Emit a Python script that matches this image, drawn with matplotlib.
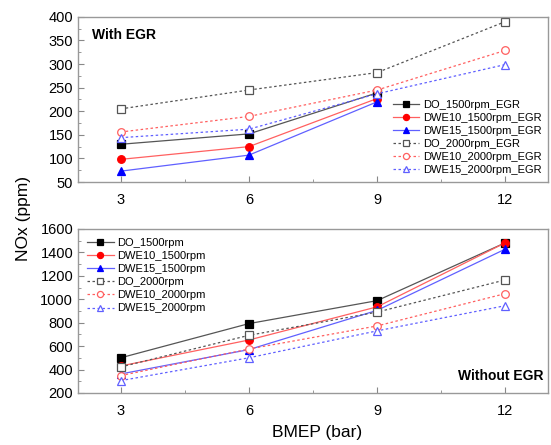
import matplotlib
matplotlib.use('Agg')
import matplotlib.pyplot as plt
from matplotlib.ticker import MultipleLocator

plt.rcParams['font.family'] = ['Liberation Sans', 'DejaVu Sans']

bmep = [3, 6, 9, 12]

# With EGR (1500rpm runs stop at 9 bar)
do_1500_egr = [130, 152, 239]
dwe10_1500_egr = [98, 125, 227]
dwe15_1500_egr = [73, 107, 220]
do_2000_egr = [205, 245, 282, 390]
dwe10_2000_egr = [156, 189, 245, 329]
dwe15_2000_egr = [144, 162, 237, 299]

# Without EGR
do_1500 = [500, 792, 988, 1482]
dwe10_1500 = [430, 652, 935, 1482]
dwe15_1500 = [362, 570, 905, 1428]
do_2000 = [422, 692, 890, 1165]
dwe10_2000 = [348, 575, 772, 1048]
dwe15_2000 = [305, 500, 730, 945]

black, red, blue = 'black', 'red', 'blue'
lblack, lred, lblue = '#555555', '#ff6060', '#6060ff'

fig = plt.figure(figsize=(5.51, 4.45), dpi=100)
ax1 = fig.add_axes([0.1416, 0.591, 0.853, 0.371])
ax2 = fig.add_axes([0.1416, 0.117, 0.853, 0.3685])


def draw(ax, series, labels):
    styles = [
        dict(color=lblack, ls='-', marker='s', mfc=black, mec=black),
        dict(color=lred, ls='-', marker='o', mfc=red, mec=red),
        dict(color=lblue, ls='-', marker='^', mfc=blue, mec=blue),
        dict(color=lblack, ls=(0, (2, 2)), marker='s', mfc='white', mec=lblack),
        dict(color=lred, ls=(0, (2, 2)), marker='o', mfc='white', mec=lred),
        dict(color=lblue, ls=(0, (2, 2)), marker='^', mfc='white', mec=lblue),
    ]
    for vals, lab, st in zip(series, labels, styles):
        ax.plot(bmep[:len(vals)], vals, label=lab, lw=0.9, ms=5.5, mew=0.9, **st)


draw(ax1, [do_1500_egr, dwe10_1500_egr, dwe15_1500_egr, do_2000_egr, dwe10_2000_egr, dwe15_2000_egr],
     ['DO_1500rpm_EGR', 'DWE10_1500rpm_EGR', 'DWE15_1500rpm_EGR',
      'DO_2000rpm_EGR', 'DWE10_2000rpm_EGR', 'DWE15_2000rpm_EGR'])
draw(ax2, [do_1500, dwe10_1500, dwe15_1500, do_2000, dwe10_2000, dwe15_2000],
     ['DO_1500rpm', 'DWE10_1500rpm', 'DWE15_1500rpm',
      'DO_2000rpm', 'DWE10_2000rpm', 'DWE15_2000rpm'])

ax1.set_ylim(50, 400)
ax1.yaxis.set_major_locator(MultipleLocator(50))
ax1.yaxis.set_minor_locator(MultipleLocator(25))
ax2.set_ylim(200, 1600)
ax2.yaxis.set_major_locator(MultipleLocator(200))
ax2.yaxis.set_minor_locator(MultipleLocator(100))

for ax in (ax1, ax2):
    ax.set_xlim(2, 13)
    ax.set_xticks(bmep)
    ax.xaxis.set_minor_locator(MultipleLocator(1.5))
    ax.tick_params(which='both', direction='in', colors='#888888', labelcolor='black',
                   labelsize=10.5, top=False, right=False)
    ax.tick_params(which='major', length=4)
    ax.tick_params(which='minor', length=2.5)
    ax.tick_params(axis='x', pad=8)
    for s in ax.spines.values():
        s.set_color('#999999')
        s.set_linewidth(1.0)

leg_kw = dict(frameon=False, fontsize=8, handlelength=2.4, markerscale=0.8,
              labelspacing=0.28, handletextpad=0.3)
ax1.legend(loc='lower right', borderaxespad=0.2, **leg_kw)
ax2.legend(loc='upper left', borderaxespad=0.4, **leg_kw)

ax1.text(0.03, 0.93, 'With EGR', transform=ax1.transAxes, fontsize=10,
         fontweight='bold', va='top', ha='left')
ax2.text(0.99, 0.06, 'Without EGR', transform=ax2.transAxes, fontsize=10,
         fontweight='bold', va='bottom', ha='right')

fig.text(0.042, 0.51, 'NOx (ppm)', rotation=90, fontsize=12.5, va='center', ha='center')
fig.text(0.575, 0.027, 'BMEP (bar)', fontsize=12.5, va='center', ha='center')

fig.savefig('out.png', dpi=100)
